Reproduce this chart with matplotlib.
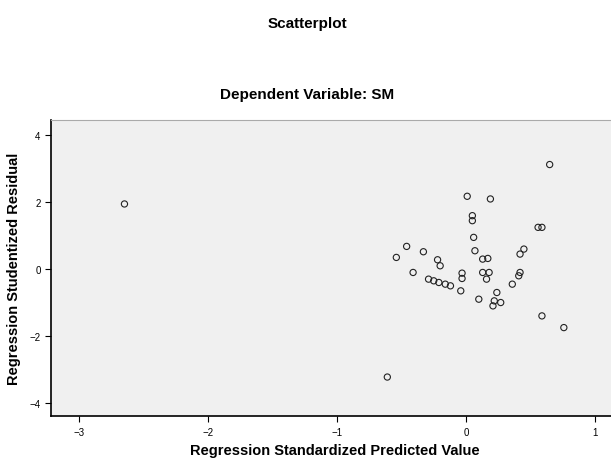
import matplotlib.pyplot as plt
import numpy as np

# regression standardized predicted value vs studentized residual
pred = [-2.65, -0.61, 0.65, 0.01, 0.19, 0.05, 0.05, 0.56, 0.59, 0.06,
        -0.46, -0.33, -0.54, 0.07, 0.45, 0.42, -0.22, 0.13, 0.17, -0.20,
        -0.41, -0.03, -0.03, 0.13, 0.18, 0.16, 0.42, 0.41, -0.29, -0.25,
        -0.21, -0.16, -0.12, -0.04, 0.36, 0.10, 0.24, 0.21, 0.27, 0.22,
        0.59, 0.76]
resid = [1.95, -3.23, 3.13, 2.18, 2.10, 1.60, 1.45, 1.25, 1.25, 0.95,
         0.68, 0.52, 0.35, 0.55, 0.60, 0.45, 0.28, 0.30, 0.32, 0.10,
         -0.10, -0.12, -0.28, -0.10, -0.10, -0.30, -0.10, -0.20, -0.30, -0.35,
         -0.40, -0.45, -0.50, -0.65, -0.45, -0.90, -0.70, -1.10, -1.00, -0.95,
         -1.40, -1.75]
xticks = [-3, -2, -1, 0, 1]
yticks = [-4, -2, 0, 2, 4]

plt.rcParams['font.family'] = ['Liberation Sans', 'DejaVu Sans']

fig = plt.figure(figsize=(6.11, 4.64), dpi=100)
ax = fig.add_axes([0.0835, 0.101, 0.93, 0.638])
ax.set_facecolor('#f0f0f0')

ax.scatter(pred, resid, s=20, facecolors='none', edgecolors='#222222', linewidths=0.8)

ax.set_xlim(-3.22, 1.19)
ax.set_ylim(-4.40, 4.46)
ax.set_xticks(xticks)
ax.set_yticks(yticks)
ax.tick_params(labelsize=7, length=4, width=0.8, direction='out')

ax.spines['left'].set_linewidth(1.2)
ax.spines['bottom'].set_linewidth(1.2)
ax.spines['top'].set_color('#aaaaaa')
ax.spines['right'].set_visible(False)

ax.set_xlabel('Regression Standardized Predicted Value', fontsize=10.5, fontweight='bold', labelpad=5)
ax.set_ylabel('Regression Studentized Residual', fontsize=10.5, fontweight='bold', labelpad=6)

fig.text(0.503, 0.948, 'Scatterplot', ha='center', va='center', fontsize=11, fontweight='bold')
fig.text(0.503, 0.795, 'Dependent Variable: SM', ha='center', va='center', fontsize=11, fontweight='bold')

fig.savefig('out.png', dpi=100)
